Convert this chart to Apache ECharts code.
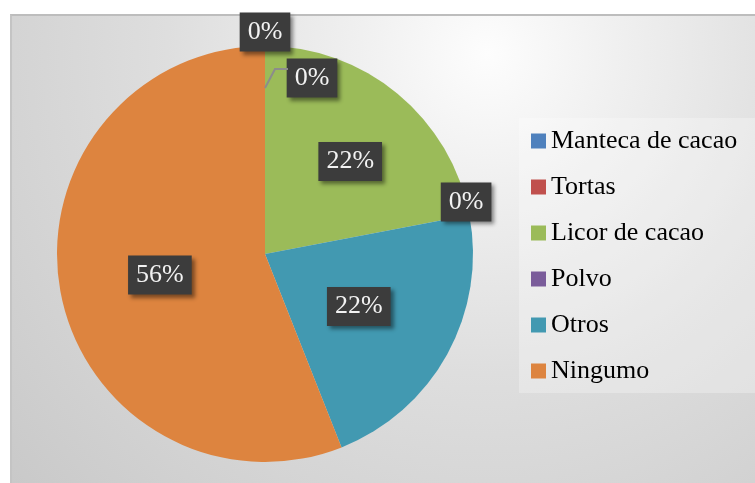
<!DOCTYPE html>
<html>
<head>
<meta charset="utf-8">
<script src="https://cdn.jsdelivr.net/npm/echarts@6/dist/echarts.min.js"></script>
<style>
  html, body { margin: 0; padding: 0; background: #fff; }
  .frame {
    position: absolute; left: 10px; top: 14px; width: 745px; height: 469px;
    box-sizing: border-box;
    border-top: 2px solid #bdbdbd; border-left: 2px solid #c4c4c4;
    background: radial-gradient(circle at 64% 8%, #fdfdfd 0%, #f0f0f0 20%, #dedede 50%, #c9c9c9 100%);
  }
  #chart { position: absolute; left: 0; top: 0; width: 755px; height: 483px; }
</style>
</head>
<body>
<div class="frame"></div>
<div id="chart"></div>
<script>
// categorias y porcentajes
const categories = ['Manteca de cacao', 'Tortas', 'Licor de cacao', 'Polvo', 'Otros', 'Ningumo'];
const values = [0, 0, 22, 0, 22, 56];
const colors = ['#4f81bd', '#c0504d', '#9bbb59', '#7a5c9a', '#4299b1', '#dd843f'];
// desplazamiento de etiquetas (como en el original, las de 0% se movieron a mano)
const labelOffsets = [[0, -115], [47, -69], [17, -10], [96, -32], [0, 1], [0, 1]];

const fontName = 'Liberation Serif';

const myChart = echarts.init(document.getElementById('chart'));

const option = {
  animation: false,
  color: colors,
  textStyle: { fontFamily: fontName },
  legend: {
    orient: 'vertical',
    left: 519,
    top: 118,
    padding: [10, 18, 9, 12],
    itemGap: 20,
    itemWidth: 15,
    itemHeight: 15,
    icon: 'rect',
    backgroundColor: 'rgba(255,255,255,0.28)',
    textStyle: {
      fontFamily: fontName,
      fontSize: 26,
      lineHeight: 24,
      color: '#000'
    },
    data: categories
  },
  graphic: [
    {
      // linea guia de la etiqueta "Tortas"
      type: 'polyline',
      shape: { points: [[265, 88], [275, 69], [288, 69]] },
      style: { stroke: '#8c8c8c', lineWidth: 2, fill: null },
      z: 5
    }
  ],
  series: [
    {
      type: 'pie',
      center: [265, 254],
      radius: 208,
      startAngle: 90,
      clockwise: true,
      avoidLabelOverlap: false,
      itemStyle: { borderWidth: 0 },
      label: {
        show: true,
        position: 'inside',
        formatter: '{d}%',
        fontFamily: fontName,
        fontSize: 26,
        lineHeight: 23,
        color: '#f2f2f2',
        backgroundColor: '#3c3c3c',
        padding: [8, 8, 8, 8],
        shadowColor: 'rgba(0,0,0,0.45)',
        shadowBlur: 4,
        shadowOffsetX: 3,
        shadowOffsetY: 3
      },
      labelLine: { show: false },
      emphasis: { disabled: true },
      data: categories.map((name, i) => ({
        name: name,
        value: values[i],
        label: { offset: labelOffsets[i] }
      })),
      z: 2
    }
  ]
};

myChart.setOption(option);
</script>
</body>
</html>
